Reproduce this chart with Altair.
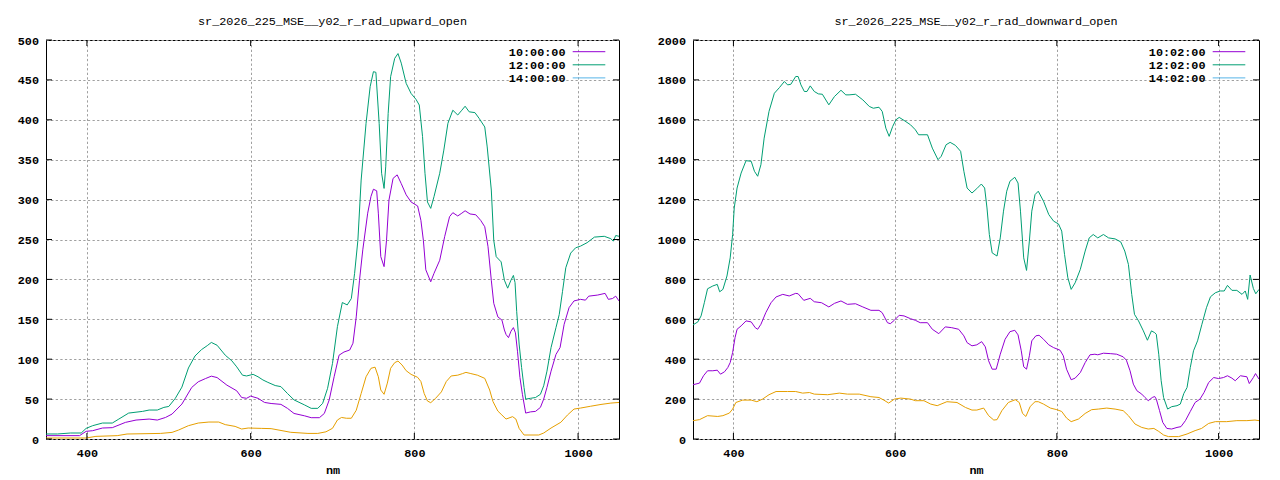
import altair as alt
import pandas as pd

# ---------------- data ----------------
X_TICKS = [400, 600, 800, 1000]
UP_Y_TICKS = list(range(0, 501, 50))
DOWN_Y_TICKS = list(range(0, 2001, 200))

UP_TITLE = "sr_2026_225_MSE__y02_r_rad_upward_open"
DOWN_TITLE = "sr_2026_225_MSE__y02_r_rad_downward_open"
UP_LABELS = ["10:00:00", "12:00:00", "14:00:00"]
DOWN_LABELS = ["10:02:00", "12:02:00", "14:02:00"]
LINE_COLORS = ["#9400d3", "#009e73", "#e69f00"]
LEGEND_COLORS = ["#9400d3", "#009e73", "#56b4e9"]

# (wavelength nm, value)
UP_10 = [(350,4.2),(391,4.2),(399,9.6),(407,10.4),(419,13.75),(431,14.2),(447,20.8),(460,23.75),(476,25),(486,23.75),(496,27),(504,31.25),(516,43.75),(528,64.6),(536,71.7),(545,75.8),(552,78.75),(559,77),(571,67.5),(583,60.4),(589,52),(595,51),(600,53.75),(609,51),(617,45.8),(625,44.5),(637,43.4),(645,38.4),(653,32),(666,29),(674,26.7),(684,26.7),(690,32),(696,49),(702,78),(708,105),(714,109),(721,111.5),(725,120),(729,153),(733,199),(737,237),(743,283),(747,304),(750,313),(754,311),(756,283),(759,228.5),(763,216),(766,249),(769,299.5),(774,326.6),(779,331),(784,320),(790,306),(796,297),(804,292),(808,274),(811,249),(814,212),(820,197),(824,207.6),(831,224),(837,253.5),(843,278.6),(847,283.6),(853,279.5),(858,283),(862,286),(868,282),(875,281),(881,274),(886,266),(890,241),(894,199),(897,170),(902,153),(907,149),(910,136.6),(912,131),(915,127),(918,135),(921,139.6),(923.5,133),(926,110),(929,77),(932,56),(936,32.5),(942,34),(948,34.6),(954,39.6),(958,50),(962,64.6),(967,85),(973,106),(978,114.6),(983,143.75),(989,164.6),(995,173),(1003,175),(1009,174),(1013,179),(1024,180.4),(1033,182.5),(1037,175),(1042,176),(1046,179),(1050,173)]
UP_12 = [(350,6.3),(364,6.3),(380,7.5),(393,7.5),(399,13.3),(407,16.7),(419,20),(431,20),(439,25),(451,32.5),(468,34.6),(476,36.3),(486,36.3),(494,39.6),(500,40.8),(508,51),(516,65),(524,89),(532,104),(540,112),(547,117),(552,121),(559,117.5),(569,105),(577,98),(583,90.4),(590,80),(595,79),(603,81),(609,78),(615,74),(621,71),(630,67),(637,65.6),(645,57),(653,49),(666,42.6),(674,38.4),(682,38.4),(688,44.7),(694,63.5),(700,94.8),(706,140.8),(712,171),(718,168),(723,176),(727,207.6),(731,249),(735,324.5),(741,395.6),(746,441.5),(750,460.3),(753,459.5),(757,395.6),(760,333),(763,314),(765,341),(768,408),(771,454),(776,477),(780,483),(784,471),(790,445.7),(796,433),(802,425.6),(806,418.5),(810,379),(813,333),(816,297),(820,289),(824,303.7),(831,333),(836,362),(841,395.6),(847,412),(853,406),(858,412),(862,417),(867,410),(874,409),(879,402),(886,391),(889,366),(894,312),(897,249),(900,228.5),(906,222),(910,199),(914,189),(918,199),(921,205),(923,196),(925,160),(928,119),(931,89.6),(934,64.6),(936,50),(942,51),(948,52),(954,56),(958,66.7),(962,85),(967,114.6),(973,139.6),(977,156),(981,185),(985,214.6),(991,233),(997,239.6),(1003,241.7),(1011,246),(1020,253),(1032,254),(1040,251),(1043,248),(1046,255),(1050,254)]
UP_14 = [(350,1.25),(399,1.25),(411,3.3),(437,4.2),(449,6.25),(490,7),(504,8.3),(512,11.25),(524,16.7),(536,20),(549,21.25),(561,21.25),(569,18),(581,15.8),(589,12.5),(597,13.75),(613,13.3),(625,13),(649,8.4),(670,7),(682,7),(692,9),(700,13.4),(706,23.8),(711,27),(717,26),(723,26),(729,36),(735,57),(741,78),(747,88.6),(752,90),(756,78),(759,61.4),(763,56),(767,70),(771,88.6),(776,95.7),(780,97.7),(785,92.7),(790,85.6),(796,81),(804,77.3),(808,72),(812,57),(816,47.6),(820,45.5),(826,51),(833,59),(839,72),(845,79),(853,80),(859,82),(863,83.5),(869,82),(877,80),(886,76),(892,61.4),(896,47),(902,35),(906,31),(912,25),(920,28),(924,25),(928,13.3),(934,5),(952,5),(958,7.5),(967,13.75),(979,21),(987,30),(995,37.5),(1003,38.75),(1015,41),(1028,43.3),(1040,45),(1050,45.8)]

DOWN_10 = [(350,272),(358,280),(363,317),(368,342),(374.5,342),(380,345),(384,325),(389,337),(393,358),(396,383),(399,433),(402,508),(404.5,550),(409.5,567),(415.6,592),(422,587),(427,558),(430,550),(434,575),(440,633),(446.5,683),(452.7,712),(461,725),(469,717),(477,730),(480,728),(487,695),(495,705),(500,688),(509,683),(518,662),(525,680),(533,692),(541,675),(551,678),(560,662),(570,645),(580,645),(584,633),(590.5,583),(594,578),(599,595),(605,620),(611,617),(619,603),(625,595),(631,583),(640,583),(646,550),(654,528),(662,562),(670,558),(678.6,550),(685,517),(689,483),(695,467),(701,472),(707,488),(711.5,462),(715.6,392),(720,350),(725,350),(730,425),(736,500),(742,538),(748,545),(752,522),(756,442),(759,362),(762.5,350),(766,417),(769,492),(774,517),(778,520),(783.5,500),(790,472),(796,458),(804,445),(808,417),(812,350),(817.7,297),(822.6,305),(829,333),(835,383),(841,422),(847,425),(850.6,422),(857.6,430),(866,428),(874,425),(882,412),(886,395),(890.5,342),(894.6,275),(899,242),(905,225),(909,208),(913,192),(918,208),(921,213),(923,200),(927,142),(931,83),(936,53),(942,50),(948.6,58),(953.5,62),(959,92),(965,138),(971,183),(977,200),(982,233),(987.7,283),(994,308),(1000,303),(1006,308),(1011,317),(1016.5,305),(1020.6,292),(1027,317),(1035,312),(1038,278),(1043,308),(1045.7,328),(1050,300)]
DOWN_12 = [(350,572),(356,587),(360,617),(364,683),(368,753),(374.5,767),(380,775),(383,738),(387,750),(392,817),(396,908),(399,1025),(401,1158),(404.5,1258),(409.5,1333),(415.6,1395),(422,1392),(426,1342),(430,1317),(434,1375),(438,1508),(444,1642),(450.6,1733),(457,1762),(463,1792),(467,1775),(471,1778),(477,1817),(480,1817),(483.5,1775),(487.7,1742),(491,1742),(495,1770),(500,1742),(505,1730),(510,1728),(518,1675),(525,1717),(533,1748),(539,1725),(543,1725),(551,1728),(560,1700),(568,1667),(573,1658),(580,1663),(584,1642),(588.5,1558),(592.6,1517),(597,1567),(601,1600),(605,1612),(611,1597),(619,1575),(625,1550),(629,1525),(640,1525),(646,1458),(653,1400),(657,1417),(663,1475),(668,1487),(674.5,1472),(681,1442),(685,1342),(689,1258),(695,1233),(701,1255),(706.6,1278),(710.7,1258),(713.6,1158),(716.5,1025),(720,933),(726,917),(730,1008),(734,1142),(738,1242),(742,1292),(748,1312),(752,1283),(755,1142),(759,908),(762.5,845),(766,992),(769,1142),(773,1225),(777,1242),(783.5,1192),(790,1125),(796,1092),(802,1078),(806,1042),(809.5,925),(813.6,808),(817.7,750),(822.6,783),(829,850),(835,942),(840,1008),(845,1025),(850.6,1008),(857.6,1025),(864,1008),(872,1003),(879,988),(884,942),(888.5,875),(892.6,725),(896,625),(901,592),(907,542),(912,495),(917,542),(921,533),(923,525),(926,425),(929,292),(932,208),(937,150),(942,162),(948.6,167),(952.7,175),(957,228),(961,258),(965,358),(969,442),(974,492),(979.4,575),(985,658),(990,713),(996,733),(1002,742),(1007,742),(1011,770),(1016.5,745),(1022.6,745),(1029,725),(1033,742),(1036,700),(1039,822),(1043,755),(1046,728),(1050,750)]
DOWN_14 = [(350,92),(358,97),(368,117),(380.6,113),(387,117),(395,130),(399,150),(403,183),(411.5,195),(422,195),(429,187),(436,200),(444,222),(452.7,238),(467,238),(477,238),(485.6,230),(494,233),(500,225),(516.5,222),(531,230),(541,225),(555.6,225),(570,212),(580,208),(586,195),(592,180),(599,200),(607,205),(619,200),(625,192),(635.6,192),(644,175),(652,167),(664,187),(676.5,183),(687,158),(695,145),(701,145),(709.5,155),(715.6,117),(722,95),(726,97),(732,142),(740,183),(748.6,197),(753.5,183),(757.6,128),(761.7,113),(767,163),(773,187),(777,187),(783.5,175),(792,155),(800,147),(806,138),(812,105),(817.7,87),(826.7,100),(835,128),(843,147),(851.4,150),(861.7,155),(872,150),(882,142),(888.5,117),(896.7,75),(905,58),(913,50),(920,53),(926,38),(932,20),(938,12),(950.6,12),(961,25),(971,42),(979,53),(987.7,78),(996,87),(1010,87),(1022.6,92),(1035,92),(1045,95),(1050,92)]

# ---------------- styling ----------------
FONT = "Liberation Mono"
FS = 11.8
W1, W2, H = 573, 566, 399
TICK = 6


def panel(series, labels, yticks, ymax, title, width):
    rows = []
    for lab, pts in zip(labels, series):
        for nm, v in pts:
            rows.append({"nm": nm, "v": v, "series": lab})
    df = pd.DataFrame(rows)
    xs = alt.Scale(domain=[350, 1050], nice=False, zero=False)
    ys = alt.Scale(domain=[0, ymax], nice=False, zero=False)
    x_axis = alt.Axis(values=X_TICKS, title="nm", format="d", labelOverlap=False)
    y_axis = alt.Axis(values=yticks, title=None, format="d", labelOverlap=False,
                      labelSeparation=0, tickCount=len(yticks))

    lines = alt.Chart(df).mark_line(strokeWidth=1, clip=True, interpolate="linear").encode(
        x=alt.X("nm:Q", scale=xs, axis=x_axis),
        y=alt.Y("v:Q", scale=ys, axis=y_axis),
        color=alt.Color("series:N", scale=alt.Scale(domain=labels, range=LINE_COLORS), legend=None),
        order=alt.Order("nm:Q"),
    )

    xt = pd.DataFrame({"nm": X_TICKS})
    yt = pd.DataFrame({"v": yticks})
    tick_style = dict(color="black", strokeWidth=1)
    t_bottom = alt.Chart(xt).mark_rule(**tick_style).encode(
        x=alt.X("nm:Q", scale=xs, axis=x_axis), y=alt.value(H), y2=alt.value(H - TICK))
    t_top = alt.Chart(xt).mark_rule(**tick_style).encode(
        x=alt.X("nm:Q", scale=xs, axis=x_axis), y=alt.value(0), y2=alt.value(TICK))
    t_left = alt.Chart(yt).mark_rule(**tick_style).encode(
        y=alt.Y("v:Q", scale=ys, axis=y_axis), x=alt.value(0), x2=alt.value(TICK))
    t_right = alt.Chart(yt).mark_rule(**tick_style).encode(
        y=alt.Y("v:Q", scale=ys, axis=y_axis), x=alt.value(width), x2=alt.value(width - TICK))

    title_layer = alt.Chart(pd.DataFrame({"t": [title]})).mark_text(
        align="center", baseline="alphabetic", font=FONT, fontSize=FS, color="black").encode(
        text="t:N", x=alt.value(width / 2), y=alt.value(-15))

    legend_layers = []
    for i, (lab, col) in enumerate(zip(labels, LEGEND_COLORS)):
        yy = 11.7 + 13.1 * i
        ld = pd.DataFrame({"label": [lab]})
        legend_layers.append(
            alt.Chart(ld).mark_text(align="right", baseline="middle", font=FONT, fontSize=FS,
                                    fontWeight="bold", color="black").encode(
                text="label:N", x=alt.value(width - 53.5), y=alt.value(yy)))
        legend_layers.append(
            alt.Chart(ld).mark_rule(color=col, strokeWidth=1).encode(
                x=alt.value(width - 46.3), x2=alt.value(width - 13.7), y=alt.value(yy)))

    return alt.layer(lines, t_bottom, t_top, t_left, t_right, title_layer, *legend_layers).properties(
        width=width, height=H,
    )


up = panel([UP_10, UP_12, UP_14], UP_LABELS, UP_Y_TICKS, 500, UP_TITLE, W1)
down = panel([DOWN_10, DOWN_12, DOWN_14], DOWN_LABELS, DOWN_Y_TICKS, 2000, DOWN_TITLE, W2)

chart = alt.hconcat(up, down, spacing=36).properties(
    padding={"left": 8, "top": 7, "right": 5, "bottom": 2},
    background="white",
).configure_view(
    stroke="black", strokeWidth=1,
).configure_axis(
    domain=False, ticks=False, labelOverlap=False,
    labelFont=FONT, labelFontSize=FS, labelFontWeight="bold", labelColor="black",
    labelPadding=7.5,
    titleFont=FONT, titleFontSize=FS, titleFontWeight="bold", titleColor="black",
    grid=True, gridColor="#a0a0a0", gridDash=[2.3, 2.3], gridWidth=1, gridOpacity=1,
).configure_axisX(
    labelPadding=8, titlePadding=6,
)

chart.save("out.html", embed_options={"renderer": "svg", "actions": False})
